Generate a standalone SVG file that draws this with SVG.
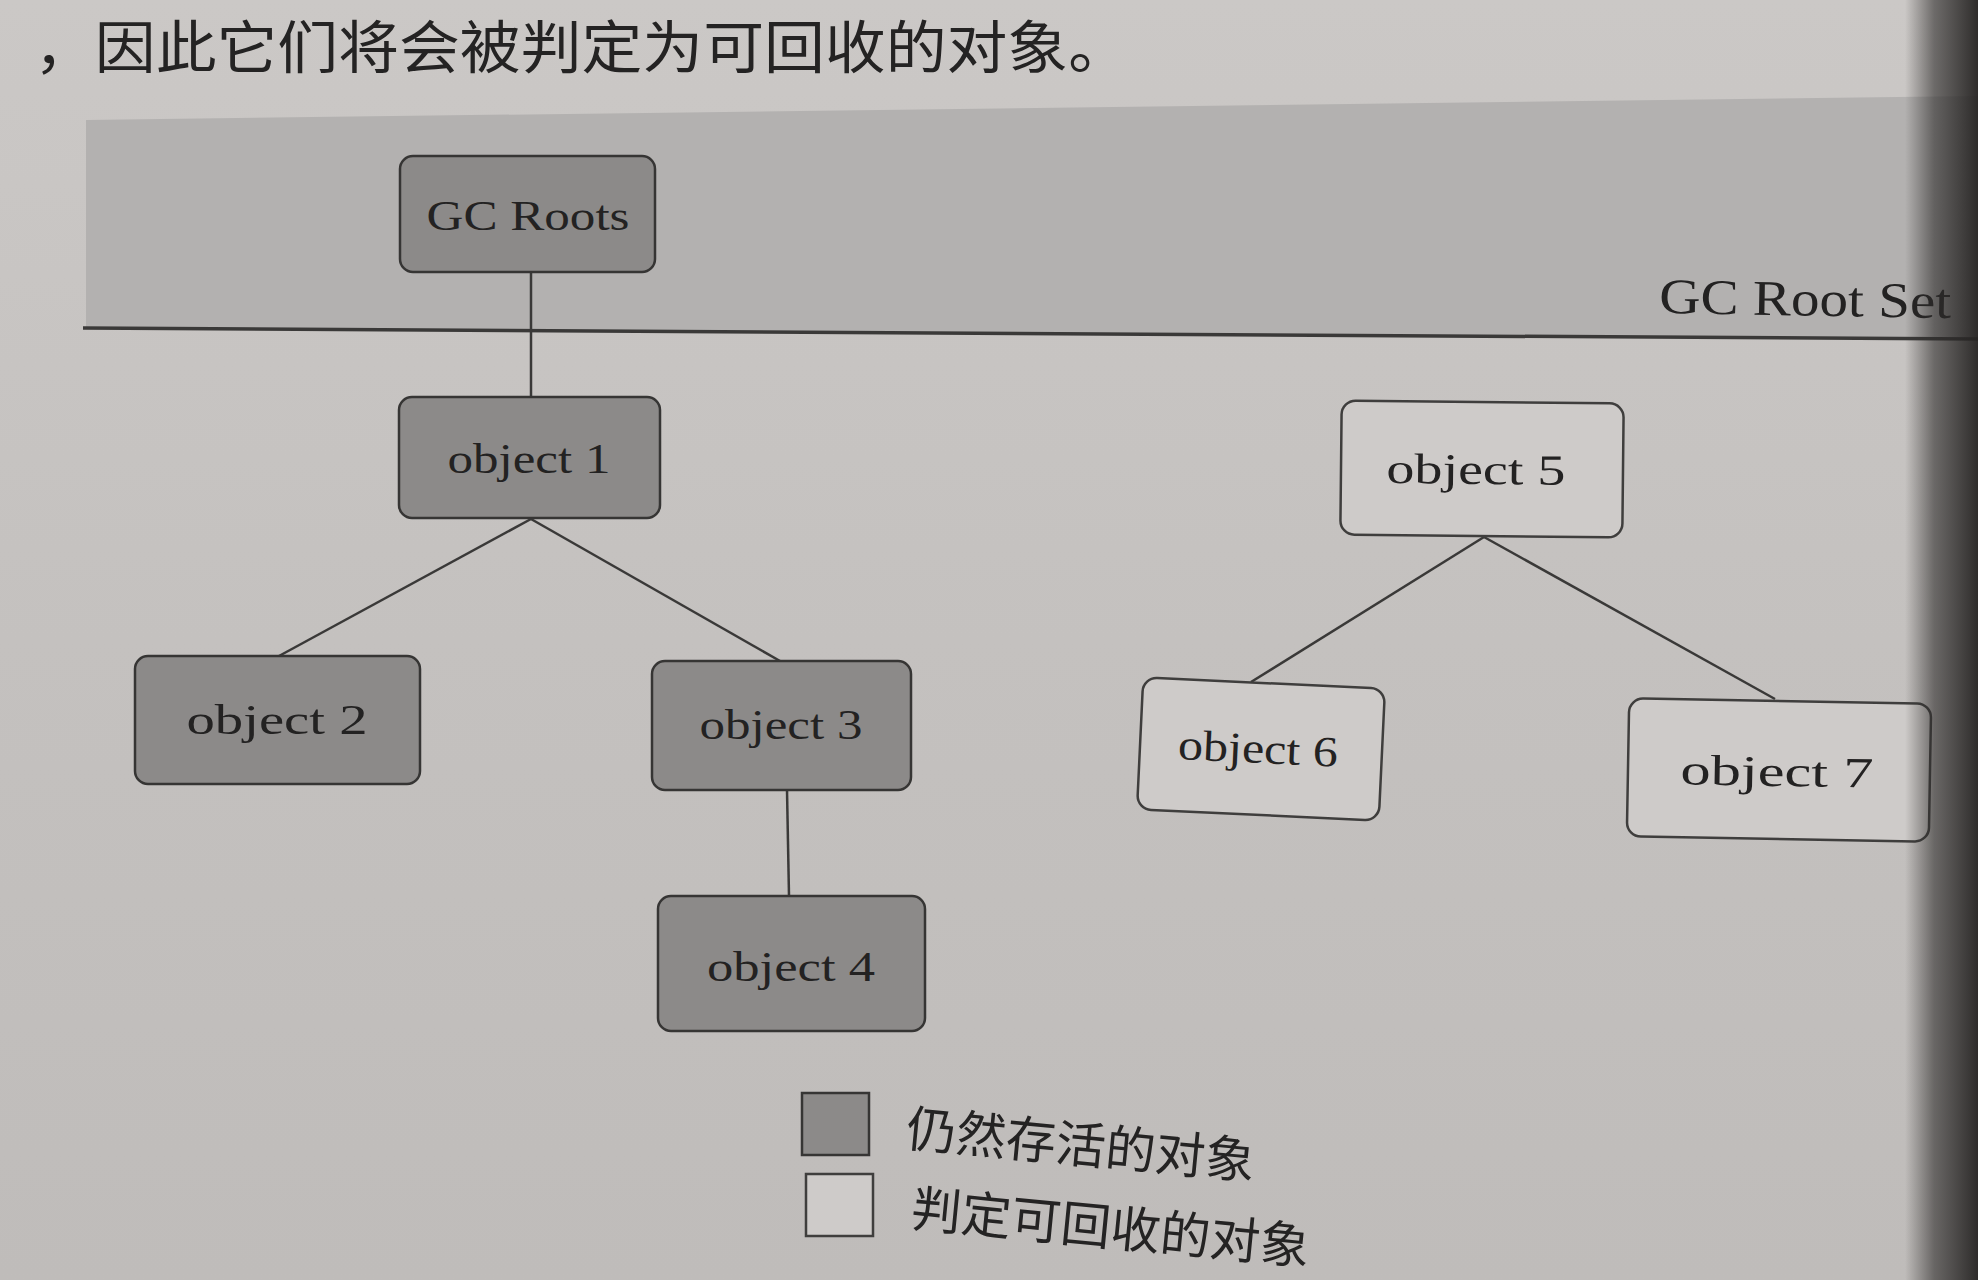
<svg xmlns="http://www.w3.org/2000/svg" width="1978" height="1280" viewBox="0 0 1978 1280">
  <defs>
    <linearGradient id="edge" x1="0" y1="0" x2="1" y2="0">
      <stop offset="0" stop-color="#2e2c2b" stop-opacity="0"/>
      <stop offset="0.4" stop-color="#2e2c2b" stop-opacity="0.6"/>
      <stop offset="1" stop-color="#262423" stop-opacity="0.95"/>
    </linearGradient>
    <linearGradient id="page" x1="0" y1="0" x2="0" y2="1">
      <stop offset="0" stop-color="#cbc8c6"/>
      <stop offset="0.5" stop-color="#c4c1bf"/>
      <stop offset="1" stop-color="#bfbcba"/>
    </linearGradient>
  </defs>
  <style>
    .live { fill: #8c8a89; stroke: #363534; stroke-width: 2.5; }
    .dead { fill: #cecbc9; stroke: #3f3e3d; stroke-width: 2.5; }
    .lbl { font-family: "Liberation Serif", "Times New Roman", serif; font-size: 43px; fill: #232222; text-anchor: middle; }
    .cjk { font-family: "Noto Sans CJK SC", "Noto Sans", sans-serif; fill: #242323; }
    .conn line { stroke: #3a3938; stroke-width: 2.5; }
  </style>

  <!-- page -->
  <rect x="0" y="0" width="1978" height="1280" fill="url(#page)"/>

  <!-- top text line -->
  <text class="cjk" x="34" y="68" font-size="57" textLength="1095" lengthAdjust="spacingAndGlyphs">，因此它们将会被判定为可回收的对象。</text>

  <!-- GC Root Set band -->
  <g id="root-set">
    <polygon points="86,120 1978,96 1978,338 86,328" fill="#b3b1b0"/>
    <line x1="83" y1="328" x2="1978" y2="339" stroke="#3a3938" stroke-width="3.5"/>
    <text x="1659" y="313" font-family="Liberation Serif, Times New Roman, serif" font-size="50" fill="#232222" textLength="292" lengthAdjust="spacingAndGlyphs" transform="rotate(1 1659 313)">GC Root Set</text>
  </g>

  <!-- connectors -->
  <g id="connectors" class="conn">
    <line x1="531" y1="272" x2="531" y2="397"/>
    <line x1="531" y1="519" x2="279" y2="656"/>
    <line x1="531" y1="519" x2="780" y2="661"/>
    <line x1="787" y1="790" x2="789" y2="896"/>
    <line x1="1484" y1="537" x2="1251" y2="682"/>
    <line x1="1484" y1="537" x2="1775" y2="699"/>
  </g>

  <g id="gc-roots">
    <rect class="live" x="400" y="156" width="255" height="116" rx="13"/>
    <text class="lbl" x="528" y="230" textLength="203" lengthAdjust="spacingAndGlyphs">GC Roots</text>
  </g>
  <g id="object1">
    <rect class="live" x="399" y="397" width="261" height="121" rx="13"/>
    <text class="lbl" x="529" y="473" textLength="163" lengthAdjust="spacingAndGlyphs">object 1</text>
  </g>
  <g id="object2">
    <rect class="live" x="135" y="656" width="285" height="128" rx="13"/>
    <text class="lbl" x="277" y="734" textLength="181" lengthAdjust="spacingAndGlyphs">object 2</text>
  </g>
  <g id="object3">
    <rect class="live" x="652" y="661" width="259" height="129" rx="13"/>
    <text class="lbl" x="781" y="739" textLength="163" lengthAdjust="spacingAndGlyphs">object 3</text>
  </g>
  <g id="object4">
    <rect class="live" x="658" y="896" width="267" height="135" rx="13"/>
    <text class="lbl" x="791" y="981" textLength="168" lengthAdjust="spacingAndGlyphs">object 4</text>
  </g>
  <g id="object5" transform="rotate(0.6 1483 469)">
    <rect class="dead" x="1341" y="402" width="282" height="134" rx="14"/>
    <text class="lbl" x="1476" y="484" font-size="46" textLength="179" lengthAdjust="spacingAndGlyphs">object 5</text>
  </g>
  <g id="object6" transform="rotate(2.7 1261 749)">
    <rect class="dead" x="1140" y="683" width="242" height="132" rx="14"/>
    <text class="lbl" x="1258" y="763" textLength="160" lengthAdjust="spacingAndGlyphs">object 6</text>
  </g>
  <g id="object7" transform="rotate(1 1779 770)">
    <rect class="dead" x="1628" y="701" width="302" height="138" rx="14"/>
    <text class="lbl" x="1777" y="786" font-size="48" textLength="193" lengthAdjust="spacingAndGlyphs">object 7</text>
  </g>

  <!-- legend -->
  <g id="legend">
    <rect class="live" x="802" y="1093" width="67" height="62"/>
    <rect class="dead" x="806" y="1174" width="67" height="62"/>
    <text class="cjk" x="905" y="1146" font-size="50" transform="rotate(5.5 905 1146)">仍然存活的对象</text>
    <text class="cjk" x="910" y="1226" font-size="50" transform="rotate(5.6 910 1226)">判定可回收的对象</text>
  </g>

  <!-- dark page edge on the right -->
  <rect x="1905" y="0" width="73" height="1280" fill="url(#edge)"/>
</svg>
